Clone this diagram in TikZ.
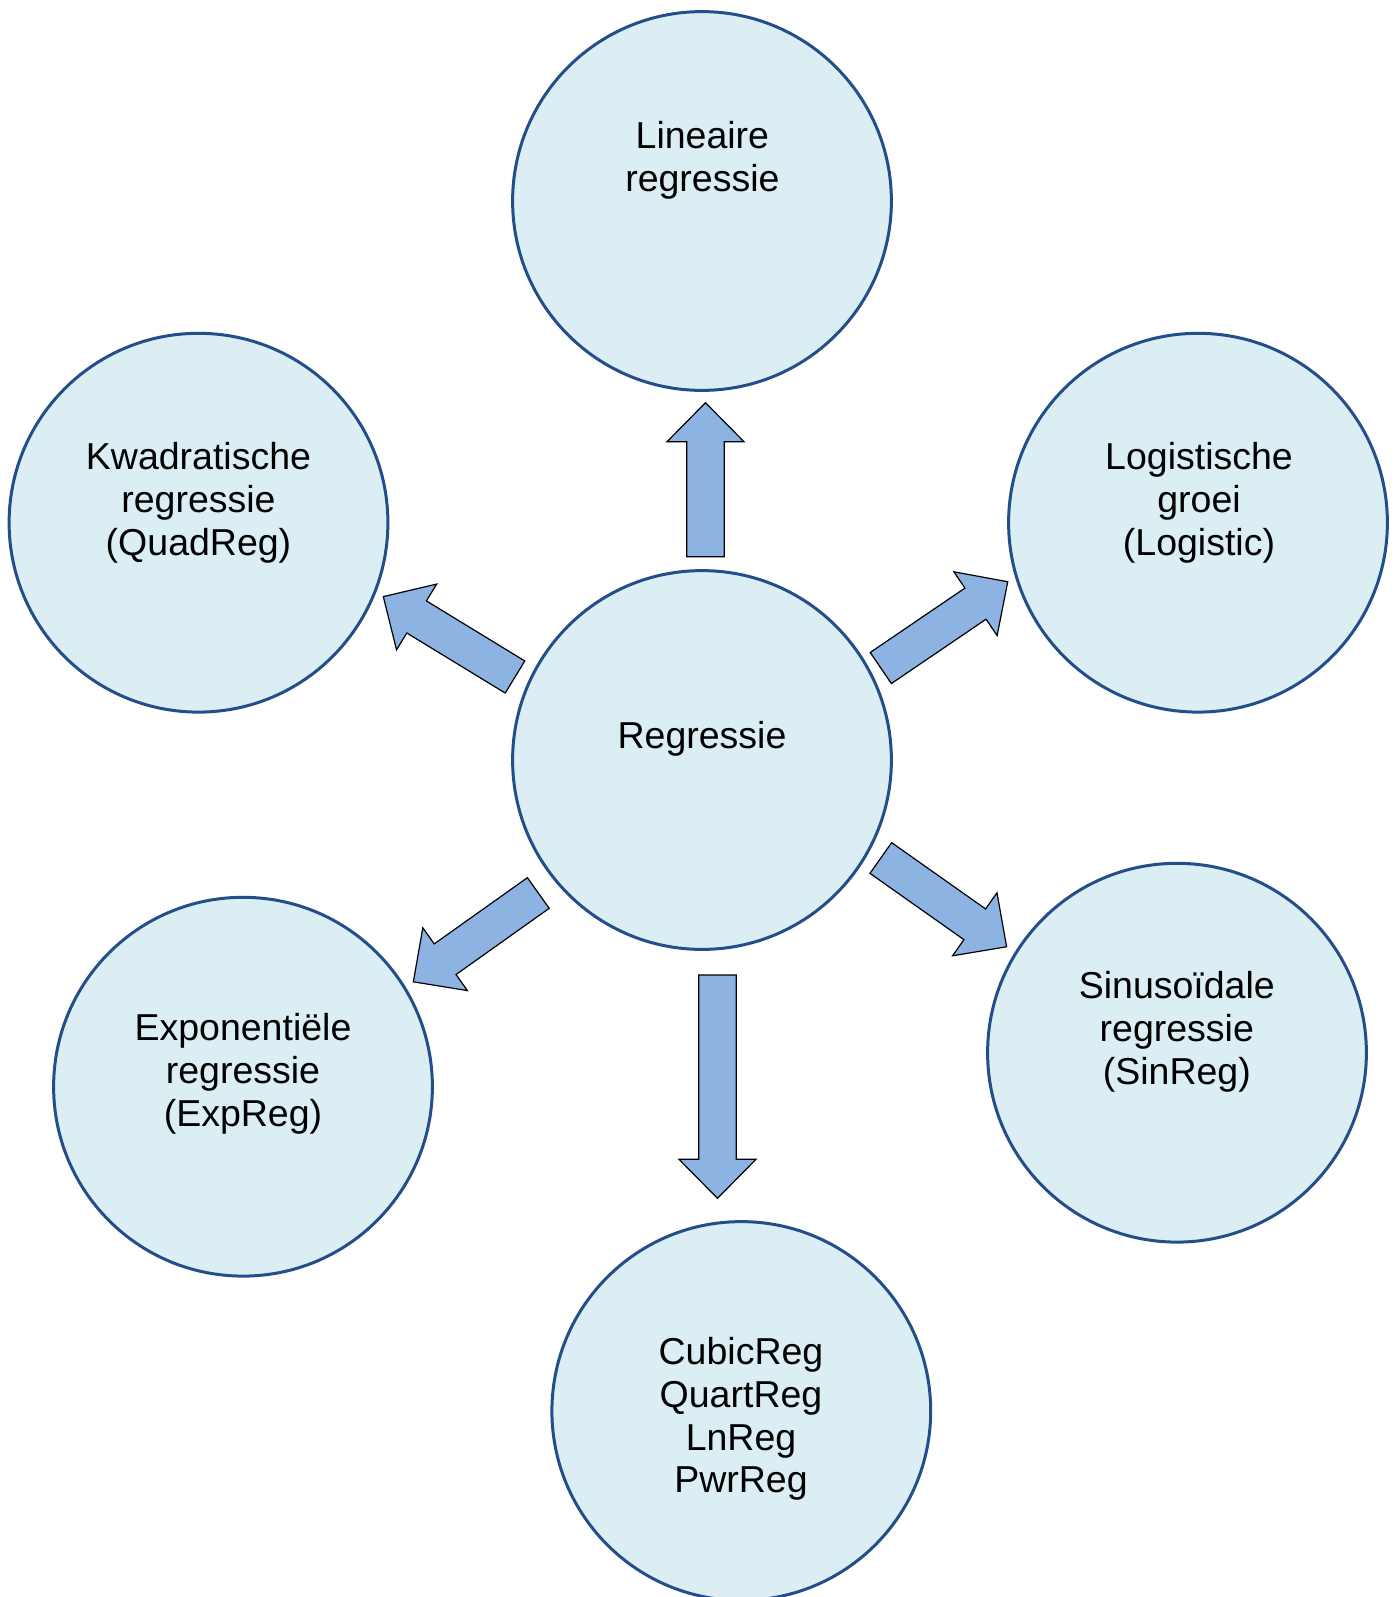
\documentclass[tikz,border=0pt]{standalone}
\usepackage{fontspec}
\setmainfont{Liberation Sans}
\usepackage{tikz}
\usetikzlibrary{calc,positioning}
\definecolor{bubbleblue}{RGB}{35,78,138}
\definecolor{bubblefill}{RGB}{218,238,243}
\definecolor{arrowblue}{RGB}{141,179,226}
\tikzset{
    % circle around one kind of regression
    bubble/.style={
        circle, draw=bubbleblue, fill=bubblefill,
        minimum size=189.4pt, inner sep=0pt, line width=1.5pt
    },
    % the text inside a bubble
    bubbletext/.style={
        align=center, inner sep=0pt,
        font=\fontsize{18.75pt}{21.4pt}\selectfont
    },
    % block arrow
    arrowbox/.style={fill=arrowblue, draw=black, line width=0.6pt, line join=miter},
}
% block arrow: tail point, direction, length
\newcommand{\blockarrow}[3]{%
  \draw[arrowbox, shift={(#1)}, rotate=#2]
    (0,-18.8) -- (#3-39,-18.8) -- (#3-39,-38.5) -- (#3,0)
    -- (#3-39,38.5) -- (#3-39,18.8) -- (0,18.8) -- cycle;}

\begin{document}
\begin{tikzpicture}[x=0.5pt,y=-0.5pt]
  \useasboundingbox (0,0) rectangle (1399,1597);

  % --- the bubbles ---
  \node[bubble] (reg)   at (702,760)    {};
  \node[bubble] (lin)   at (702,201)    {};
  \node[bubble] (quad)  at (198.5,522.7) {};
  \node[bubble] (logi)  at (1198,522.7) {};
  \node[bubble] (expo)  at (243,1086.7) {};
  \node[bubble] (sinus) at (1177,1052.7) {};
  \node[bubble] (other) at (741.3,1411) {};

  % texts, a little above the centre
  \node[bubbletext] (reg-t)   at (702,739)    {Regressie};
  \node[bubbletext] (lin-t)   at (702.4,160) {Lineaire\\regressie};
  \node[bubbletext] (quad-t)  at (198.5,503) {Kwadratische\\regressie\\(QuadReg)};
  \node[bubbletext] (logi-t)  at (1199,503) {Logistische\\groei\\(Logistic)};
  \node[bubbletext] (expo-t)  at (243,1074)   {Exponentiële\\regressie\\(ExpReg)};
  \node[bubbletext] (sinus-t) at (1176.8,1032) {Sinusoïdale\\regressie\\(SinReg)};
  \node[bubbletext] (other-t) at (741,1419)   {CubicReg\\QuartReg\\LnReg\\PwrReg};

  % --- arrows out of the centre ---
  \coordinate (a-lin)   at (705.5,556.7);
  \coordinate (a-quad)  at (515,677);
  \coordinate (a-logi)  at (880.8,668);
  \coordinate (a-sinus) at (880.8,858);
  \coordinate (a-expo)  at (538.3,893);
  \coordinate (a-other) at (717.5,975);
  \blockarrow{a-lin}{90}{154}
  \blockarrow{a-quad}{148.6}{154.3}
  \blockarrow{a-logi}{34.2}{153.5}
  \blockarrow{a-sinus}{-35.2}{154}
  \blockarrow{a-expo}{215.4}{153.3}
  \blockarrow{a-other}{-90}{223.3}
\end{tikzpicture}
\end{document}
